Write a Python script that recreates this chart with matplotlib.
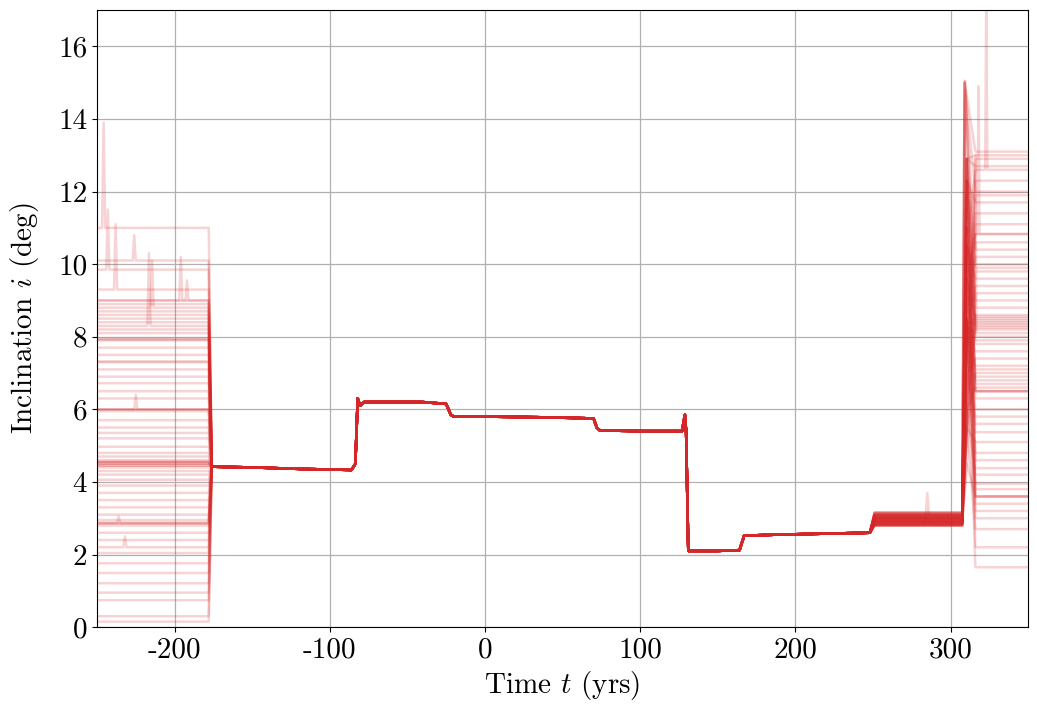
import numpy as np
import matplotlib.pyplot as plt
from matplotlib.ticker import FuncFormatter

plt.rcParams['font.family'] = 'serif'
plt.rcParams['font.serif'] = ['cmr10']
plt.rcParams['mathtext.fontset'] = 'cm'
plt.rcParams['axes.unicode_minus'] = False

# nominal path shared by every clone (yrs, deg)
core_t = [-176, -150, -120, -86, -83.5, -82, -80.5, -78, -40, -25, -22, -20, 0, 40, 70, 72, 74, 100, 127,
          128.8, 129.6, 131, 150, 164, 167, 190, 248]
core_i = [4.42, 4.40, 4.36, 4.33, 4.5, 6.3, 6.1, 6.2, 6.2, 6.15, 5.85, 5.8, 5.8, 5.78, 5.75, 5.5, 5.42, 5.4, 5.4,
          5.85, 5.4, 2.1, 2.1, 2.12, 2.52, 2.55, 2.6]

# clone inclinations before the -178 yr encounter
left_levels = [9.0, 9.0, 8.9, 8.8, 8.7, 8.6, 8.5, 8.4, 8.3, 8.2, 8.1, 7.95, 7.92, 7.9, 7.7, 7.5, 7.32, 7.3,
               7.1, 6.9, 6.72, 6.5, 6.3, 6.0, 6.0, 5.95, 5.7, 5.5, 5.35, 5.2, 4.97, 4.8, 4.7, 4.6, 4.55,
               4.55, 4.55, 4.5, 4.5, 4.45, 4.45, 4.4, 4.3, 4.2, 4.06, 3.9, 3.7, 3.5, 3.3, 3.1, 2.95, 2.87,
               2.87, 2.85, 2.8, 2.6, 2.4, 2.2, 2.04, 1.76, 1.49, 1.21, 0.95, 0.74, 11.0, 9.85, 9.3, 10.1,
               0.3, 0.15]
# clone inclinations after the 308 yr encounter
right_levels = [13.1, 13.0, 12.9, 12.6, 12.3, 12.0, 11.7, 11.4, 11.1, 10.83, 10.83, 10.6, 10.4, 10.2, 10.0,
                9.8, 9.6, 9.4, 9.2, 9.0, 8.8, 8.6, 8.55, 8.5, 8.45, 8.4, 8.35, 8.3, 8.25, 8.2, 8.1, 8.0,
                7.8, 7.6, 7.4, 7.2, 7.1, 7.0, 6.9, 6.8, 6.7, 6.6, 6.5, 6.5, 6.5, 6.3, 6.0, 5.8, 5.6, 5.37,
                5.1, 4.8, 4.6, 4.38, 4.2, 3.95, 3.8, 3.6, 3.6, 3.6, 3.4, 3.2, 3.0, 2.7, 2.2, 1.65, 12.7,
                11.9, 9.9, 7.9]
# spread between 250 and 306 yrs
mid_levels = [2.8, 2.85, 2.9, 2.95, 3.0, 3.05, 3.1, 3.15, 2.82, 2.88, 2.92, 2.98, 3.02, 3.08]
# values just after the 308 yr encounter, before settling
transient_levels = [8.4, 12.9, 6.0, 10.5, 8.3, 4.5, 12.3, 8.5, 7.0, 9.6, 8.4, 5.5, 11.0]

# short excursions: clone index, time, peak value
left_spike_clone = [64, 65, 66, 67, 8, 3, 0, 1, 24, 51, 57]
left_spike_t = [-245.7, -243, -238, -226, -216.5, -214.5, -196, -192, -225, -236, -232]
left_spike_i = [13.9, 11.5, 11.1, 10.8, 10.3, 10.1, 10.2, 9.55, 6.4, 3.05, 2.5]
right_spike_clone = [0, 5, 12, 20, 31, 44, 52, 60, 3, 9, 30, 64]
right_spike_t = [309, 309, 309.3, 309, 309.5, 310, 310, 309, 323, 318, 316, 285]
right_spike_i = [15.05, 15.0, 14.8, 15.0, 15.05, 12.9, 11.8, 15.0, 17.5, 14.9, 13.0, 3.7]

color = '#d62728'

fig = plt.figure(figsize=(10.37, 7.2), dpi=100)
ax = fig.add_axes([0.0935, 0.129, 0.898, 0.857])

for k in range(len(left_levels)):
    L = left_levels[k]
    R = right_levels[k]
    M = mid_levels[k % len(mid_levels)]
    T = transient_levels[k % len(transient_levels)]
    pts = [(-250, L), (-181, L), (-178, L)]
    pts += list(zip(core_t, core_i))
    pts += [(251, M), (306, M), (307.5, M), (310.5, T), (316, R), (350, R)]
    for c, ts, v in zip(left_spike_clone, left_spike_t, left_spike_i):
        if c == k:
            pts += [(ts - 1, L), (ts, v), (ts + 1, L)]
    for c, ts, v in zip(right_spike_clone, right_spike_t, right_spike_i):
        if c != k:
            continue
        if ts < 306:
            pts += [(ts - 1.5, M), (ts, v), (ts + 1.5, M)]
        elif ts < 311:
            pts = [p for p in pts if p[0] != 310.5]
            pts += [(ts, v)]
        else:
            pts += [(ts - 0.7, R), (ts, v), (ts + 0.7, R)]
    pts.sort(key=lambda p: p[0])
    t, inc = zip(*pts)
    ax.plot(t, inc, color=color, lw=1.8, alpha=0.2)

ax.set_xlim(-250, 350)
ax.set_ylim(0, 17)
ax.set_yticks(range(0, 17, 2))
ax.set_xticks([-200, -100, 0, 100, 200, 300])
ax.xaxis.set_major_formatter(FuncFormatter(lambda v, p: '%d' % v))
ax.yaxis.set_major_formatter(FuncFormatter(lambda v, p: '%d' % v))
ax.grid(True, color='#b0b0b0', lw=0.9)
ax.set_axisbelow(True)
ax.tick_params(labelsize=21)
ax.set_xlabel('Time $t$ (yrs)', fontsize=21)
ax.set_ylabel('Inclination $i$ (deg)', fontsize=21, labelpad=12)

fig.savefig('out.png', dpi=100)
